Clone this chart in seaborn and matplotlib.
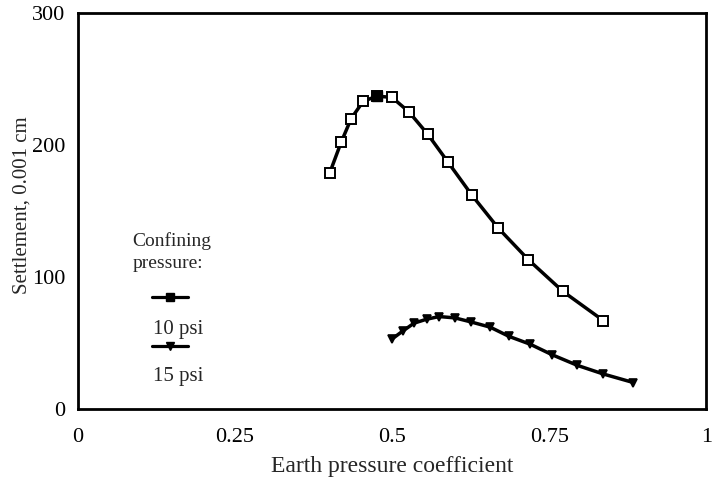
import pandas as pd
import seaborn as sns
import matplotlib.pyplot as plt
from matplotlib.lines import Line2D

# Data
k_10 = [0.401, 0.419, 0.435, 0.454, 0.476, 0.500, 0.527, 0.557, 0.589, 0.627, 0.669, 0.717, 0.772, 0.836]
s_10 = [179, 202, 220, 233, 237, 236, 225, 208, 187, 162, 137, 113, 89, 67]
k_15 = [0.500, 0.517, 0.535, 0.555, 0.575, 0.600, 0.625, 0.656, 0.686, 0.720, 0.755, 0.795, 0.836, 0.884]
s_15 = [53, 59, 65, 68, 70, 69, 66, 62, 55, 49, 41, 33, 26.5, 20]
x_ticks = [0, 0.25, 0.5, 0.75, 1]
x_labels = ['0', '0.25', '0.5', '0.75', '1']
y_ticks = [0, 100, 200, 300]

df = pd.concat([
    pd.DataFrame({'k': k_10, 's': s_10, 'p': '10 psi'}),
    pd.DataFrame({'k': k_15, 's': s_15, 'p': '15 psi'}),
])

sns.set_style('white')
plt.rcParams['font.family'] = ['Liberation Serif', 'DejaVu Serif']

fig = plt.figure(figsize=(7.2, 4.8), dpi=100)
ax = fig.add_axes([0.108, 0.148, 0.873, 0.825])

sns.lineplot(data=df[df['p'] == '10 psi'], x='k', y='s', ax=ax, color='black',
             lw=2.5, marker='s', ms=6.5, mfc='white', mec='black', mew=1.4)
sns.lineplot(data=df[df['p'] == '15 psi'], x='k', y='s', ax=ax, color='black',
             lw=2.5, marker='v', ms=6, mfc='black', mec='black', mew=1.2)

# peak of the 10 psi curve drawn with a filled marker
peak = df[df['p'] == '10 psi'].nlargest(1, 's')
ax.plot(peak['k'], peak['s'], 's', color='black', ms=6.5)

ax.set_xlim(0, 1)
ax.set_ylim(0, 300)
ax.set_xticks(x_ticks)
ax.set_xticklabels(x_labels)
ax.set_yticks(y_ticks)
ax.tick_params(direction='in', length=4, width=1.2, labelsize=16, colors='black')
ax.tick_params(axis='x', pad=14)
ax.tick_params(axis='y', pad=9)
for sp in ax.spines.values():
    sp.set_color('black')
    sp.set_linewidth(2)

ax.set_xlabel('Earth pressure coefficient', fontsize=17, labelpad=6)
ax.set_ylabel('Settlement, 0.001 cm', fontsize=15)
ax.yaxis.set_label_coords(-0.073, 0.515)

# hand-made legend like the original
tr = ax.transAxes
ax.text(0.087, 0.425, 'Confining', transform=tr, fontsize=14, va='center')
ax.text(0.087, 0.367, 'pressure:', transform=tr, fontsize=14, va='center')
ax.add_line(Line2D([0.118, 0.1465, 0.175], [0.282, 0.282, 0.282], transform=tr, color='black',
                   lw=2.3, marker='s', ms=5.5, markevery=[1]))
ax.text(0.12, 0.2, '10 psi', transform=tr, fontsize=15, va='center')
ax.add_line(Line2D([0.118, 0.1465, 0.175], [0.158, 0.158, 0.158], transform=tr, color='black',
                   lw=2.3, marker='v', ms=6, markevery=[1]))
ax.text(0.12, 0.081, '15 psi', transform=tr, fontsize=15, va='center')

fig.savefig('out.png', dpi=100)
